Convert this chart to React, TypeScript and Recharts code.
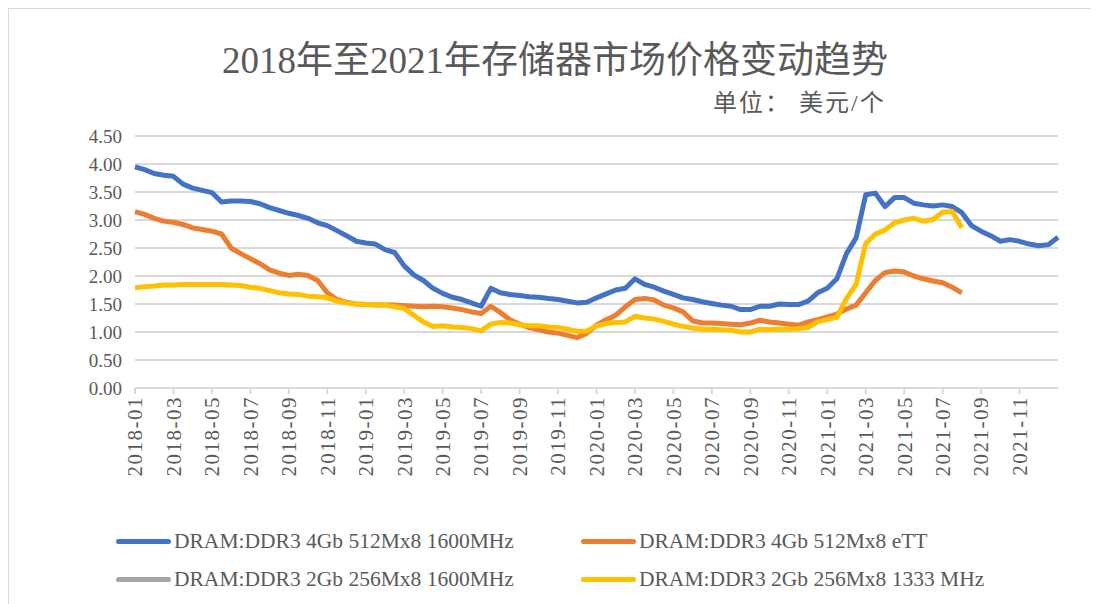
import { LineChart, Line, XAxis, YAxis, CartesianGrid, Legend } from "recharts";

// x values are months since 2018-01 (half-month steps)
const tickLabels = [
  "2018-01", "2018-03", "2018-05", "2018-07", "2018-09", "2018-11",
  "2019-01", "2019-03", "2019-05", "2019-07", "2019-09", "2019-11",
  "2020-01", "2020-03", "2020-05", "2020-07", "2020-09", "2020-11",
  "2021-01", "2021-03", "2021-05", "2021-07", "2021-09", "2021-11",
];
const yTicks = [0, 0.5, 1, 1.5, 2, 2.5, 3, 3.5, 4, 4.5];

const seriesNames = [
  "DRAM:DDR3 4Gb 512Mx8 1600MHz",
  "DRAM:DDR3 4Gb 512Mx8 eTT",
  "DRAM:DDR3 2Gb 256Mx8 1600MHz",
  "DRAM:DDR3 2Gb 256Mx8 1333 MHz",
];

const ddr3_4g_1600 = [
  3.95, 3.9, 3.83, 3.8, 3.78, 3.64, 3.57, 3.53, 3.49, 3.32,
  3.34, 3.34, 3.33, 3.29, 3.22, 3.17, 3.12, 3.08, 3.03, 2.95,
  2.9, 2.81, 2.72, 2.62, 2.59, 2.57, 2.47, 2.42, 2.18, 2.02,
  1.92, 1.78, 1.69, 1.62, 1.58, 1.52, 1.46, 1.78, 1.7, 1.67,
  1.65, 1.63, 1.62, 1.6, 1.58, 1.55, 1.52, 1.53, 1.61, 1.68,
  1.75, 1.78, 1.95, 1.85, 1.8, 1.73, 1.67, 1.61, 1.58, 1.54,
  1.51, 1.48, 1.46, 1.4, 1.4, 1.46, 1.46, 1.5, 1.49, 1.49,
  1.55, 1.7, 1.78, 1.95, 2.4, 2.68, 3.45, 3.48, 3.24, 3.4,
  3.4, 3.3, 3.27, 3.25, 3.27, 3.24, 3.13, 2.9, 2.8, 2.72,
  2.62, 2.65, 2.62, 2.57, 2.54, 2.56, 2.69,
];

const ddr3_4g_ett = [
  3.15, 3.1, 3.03, 2.98, 2.96, 2.92, 2.86, 2.83, 2.8, 2.75,
  2.5, 2.4, 2.31, 2.22, 2.11, 2.05, 2.01, 2.03, 2.01, 1.92,
  1.7, 1.58, 1.53, 1.5, 1.49, 1.48, 1.48, 1.48, 1.47, 1.46,
  1.45, 1.46, 1.45, 1.43, 1.4, 1.36, 1.33, 1.46, 1.35, 1.22,
  1.14, 1.08, 1.04, 1.0, 0.98, 0.94, 0.9, 0.98, 1.12, 1.22,
  1.3, 1.45, 1.58, 1.6, 1.57, 1.48, 1.43, 1.36, 1.2, 1.16,
  1.16, 1.15, 1.14, 1.13, 1.16, 1.21, 1.18, 1.16, 1.14, 1.12,
  1.18, 1.22, 1.27, 1.32, 1.41, 1.48, 1.7, 1.92, 2.06, 2.09,
  2.07, 2.0, 1.95, 1.91, 1.88, 1.8, 1.7,
];

// no visible values for this series in the picture
const ddr3_2g_1600: number[] = [];

const ddr3_2g_1333 = [
  1.79, 1.81, 1.82, 1.84, 1.84, 1.85, 1.85, 1.85, 1.85, 1.85,
  1.84, 1.83, 1.8, 1.78, 1.74, 1.7, 1.68, 1.67, 1.64, 1.63,
  1.61, 1.55, 1.52, 1.5, 1.49, 1.49, 1.48, 1.45, 1.42, 1.3,
  1.18, 1.1, 1.11, 1.09, 1.08, 1.06, 1.02, 1.14, 1.17, 1.16,
  1.13, 1.11, 1.11, 1.09, 1.08, 1.05, 1.01, 1.02, 1.11, 1.15,
  1.17, 1.18, 1.28, 1.25, 1.23, 1.19, 1.14, 1.1, 1.07, 1.05,
  1.05, 1.04, 1.03, 1.0, 1.0, 1.05, 1.04, 1.05, 1.05, 1.06,
  1.08, 1.18, 1.22, 1.26, 1.6, 1.85, 2.58, 2.75, 2.82, 2.95,
  3.0, 3.03, 2.98, 3.01, 3.14, 3.15, 2.86,
];

const data = ddr3_4g_1600.map((v, i) => ({
  m: i / 2,
  a: v,
  b: ddr3_4g_ett[i] ?? null,
  c: ddr3_2g_1600[i] ?? null,
  d: ddr3_2g_1333[i] ?? null,
}));

const serif = '"Liberation Serif", "Times New Roman", "Noto Sans CJK SC", serif';
const textColor = "#595959";

const XTick = (props: any) => {
  const { x, y, payload } = props;
  return (
    <g transform={`translate(${x},${y})`}>
      <text
        x={0}
        y={0}
        dy="0.35em"
        textAnchor="end"
        transform="rotate(-90)"
        fill={textColor}
        fontSize={21}
        fontFamily={serif}
        letterSpacing={1.5}
      >
        {tickLabels[Math.round(payload.value / 2)]}
      </text>
    </g>
  );
};

const LegendContent = (props: any) => {
  const items = [...(props.payload || [])].sort(
    (p: any, q: any) => seriesNames.indexOf(p.value) - seriesNames.indexOf(q.value)
  );
  return (
    <div
      style={{
        display: "grid",
        gridTemplateColumns: "465px 465px",
        gridAutoRows: "38px",
        alignItems: "center",
      }}
    >
      {items.map((p: any) => (
        <div key={p.value} style={{ display: "flex", alignItems: "center" }}>
          <span
            style={{
              display: "inline-block",
              width: 55,
              height: 5,
              borderRadius: 3,
              background: p.color,
              marginRight: 3,
            }}
          />
          <span style={{ fontFamily: serif, fontSize: 21.5, color: textColor }}>{p.value}</span>
        </div>
      ))}
    </div>
  );
};

export default function App() {
  return (
    <div
      style={{
        position: "relative",
        width: 1091,
        height: 596,
        borderLeft: "1px solid #d9d9d9",
        borderTop: "1px solid #d9d9d9",
        boxSizing: "border-box",
      }}
    >
      <div
        style={{
          position: "absolute",
          left: 0,
          width: 1092,
          top: 33,
          textAlign: "center",
          fontFamily: serif,
          fontSize: 37,
          lineHeight: "37px",
          color: textColor,
        }}
      >
        2018年至2021年存储器市场价格变动趋势
      </div>
      <div
        style={{
          position: "absolute",
          left: 704,
          top: 82,
          fontFamily: serif,
          fontSize: 24,
          lineHeight: "24px",
          letterSpacing: 2,
          color: textColor,
          whiteSpace: "pre",
        }}
      >
        单位： 美元/个
      </div>
      <LineChart
        width={1083}
        height={590}
        data={data}
        margin={{ top: 127, right: 34, bottom: 111, left: 66 }}
      >
        <CartesianGrid vertical={false} stroke="#d9d9d9" strokeWidth={2} />
        <XAxis
          dataKey="m"
          type="number"
          domain={[0, 48]}
          ticks={tickLabels.map((_, i) => i * 2)}
          interval={0}
          height={100}
          stroke="#d9d9d9"
          strokeWidth={2}
          tickSize={6}
          tick={<XTick />}
        />
        <YAxis
          domain={[0, 4.5]}
          ticks={yTicks}
          width={60}
          axisLine={false}
          tickLine={false}
          tickMargin={7}
          tickFormatter={(v: number) => v.toFixed(2)}
          tick={{ fill: textColor, fontSize: 19, fontFamily: serif }}
        />
        <Legend
          verticalAlign="middle"
          layout="horizontal"
          content={<LegendContent />}
          wrapperStyle={{ top: 513, left: 107, width: 930 }}
        />
        <Line
          dataKey="a"
          name={seriesNames[0]}
          stroke="#4472C4"
          strokeWidth={5}
          dot={false}
          strokeLinejoin="round"
          isAnimationActive={false}
        />
        <Line
          dataKey="b"
          name={seriesNames[1]}
          stroke="#ED7D31"
          strokeWidth={5}
          dot={false}
          strokeLinejoin="round"
          isAnimationActive={false}
        />
        <Line
          dataKey="c"
          name={seriesNames[2]}
          stroke="#A5A5A5"
          strokeWidth={5}
          dot={false}
          strokeLinejoin="round"
          isAnimationActive={false}
        />
        <Line
          dataKey="d"
          name={seriesNames[3]}
          stroke="#FFC000"
          strokeWidth={5}
          dot={false}
          strokeLinejoin="round"
          isAnimationActive={false}
        />
      </LineChart>
    </div>
  );
}
